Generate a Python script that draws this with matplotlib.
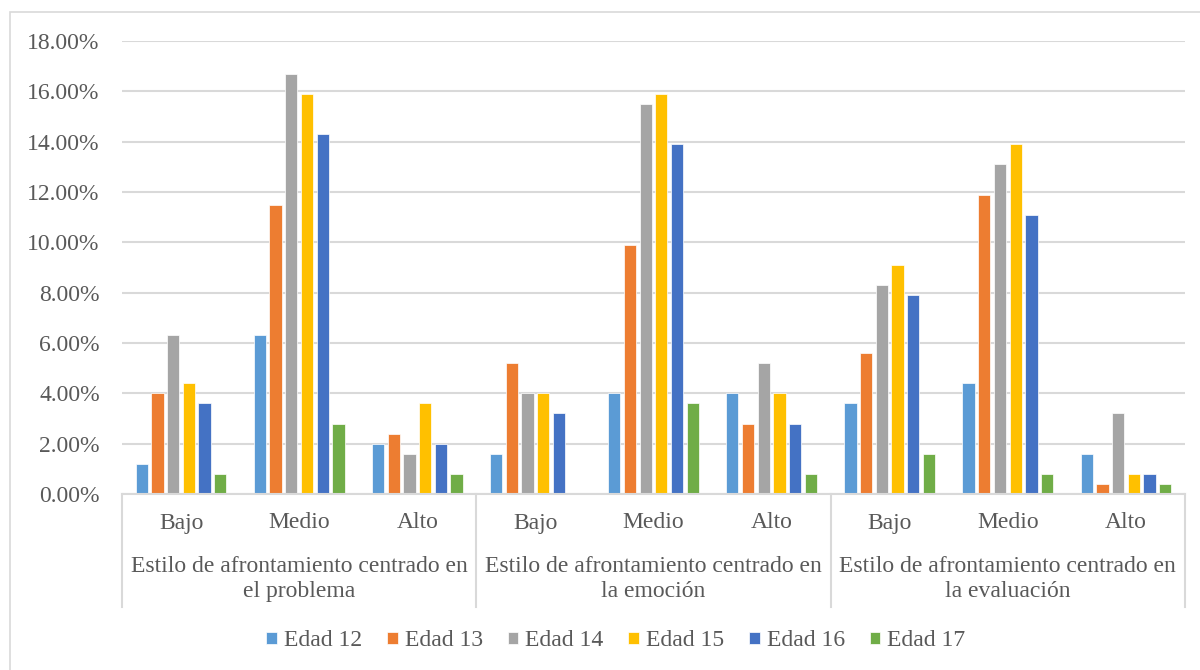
import matplotlib
matplotlib.use("Agg")
import matplotlib.pyplot as plt
import numpy as np
from matplotlib.transforms import blended_transform_factory
from matplotlib.patches import Rectangle
from matplotlib.lines import Line2D

groups = ["Estilo de afrontamiento centrado en\nel problema",
          "Estilo de afrontamiento centrado en\nla emoción",
          "Estilo de afrontamiento centrado en\nla evaluación"]
levels = ["Bajo", "Medio", "Alto"]
series_names = ["Edad 12", "Edad 13", "Edad 14", "Edad 15", "Edad 16", "Edad 17"]
colors = ["#5B9BD5", "#ED7D31", "#A5A5A5", "#FFC000", "#4472C4", "#70AD47"]

edad12 = [1.2, 6.3, 2.0, 1.6, 4.0, 4.0, 3.6, 4.4, 1.6]
edad13 = [4.0, 11.5, 2.4, 5.2, 9.9, 2.8, 5.6, 11.9, 0.4]
edad14 = [6.3, 16.7, 1.6, 4.0, 15.5, 5.2, 8.3, 13.1, 3.2]
edad15 = [4.4, 15.9, 3.6, 4.0, 15.9, 4.0, 9.1, 13.9, 0.8]
edad16 = [3.6, 14.3, 2.0, 3.2, 13.9, 2.8, 7.9, 11.1, 0.8]
edad17 = [0.8, 2.8, 0.8, 0.0, 3.6, 0.8, 1.6, 0.8, 0.4]
series = [edad12, edad13, edad14, edad15, edad16, edad17]

yticks = [0, 2, 4, 6, 8, 10, 12, 14, 16, 18]

W, H = 1200, 670
fig = plt.figure(figsize=(12, 6.7), dpi=100)
plt.rcParams['font.family'] = ['Liberation Serif', 'DejaVu Serif']
txtc = "#595959"
gridc = "#D9D9D9"
fs = 17

ax = fig.add_axes([122 / W, (H - 494) / H, (1185 - 122) / W, (494 - 41) / H])
n = len(edad12)
x = np.arange(n)
pitch = 0.133
bw = 0.104
for i, (vals, c, name) in enumerate(zip(series, colors, series_names)):
    ax.bar(x + (i - 2.5) * pitch, vals, width=bw, color=c, label=name,
           edgecolor="white", linewidth=0.5, zorder=3)

ax.set_xlim(-0.5, n - 0.5)
ax.set_ylim(0, 18)
ax.set_yticks(yticks)
ax.set_yticklabels([f"{v:.2f}%" for v in yticks], fontsize=fs, color=txtc)
ax.tick_params(axis='y', length=0, pad=16)
ax.set_xticks([])
ax.grid(axis='y', color=gridc, linewidth=1.5, zorder=0)
for s in ["top", "right", "left"]:
    ax.spines[s].set_visible(False)
ax.spines["bottom"].set_color(gridc)
ax.spines["bottom"].set_linewidth(1.5)
ax.spines["bottom"].set_zorder(4)

tr = blended_transform_factory(ax.transData, fig.transFigure)
for j in range(n):
    ax.text(j, 1 - 523 / H, levels[j % 3], transform=tr, ha='center', va='center',
            fontsize=fs, color=txtc)
for g in range(3):
    ax.text(3 * g + 1, 1 - 579 / H, groups[g], transform=tr, ha='center', va='center',
            fontsize=fs, color=txtc, linespacing=1.3)
for b in range(4):
    xb = 3 * b - 0.5
    ax.add_line(Line2D([xb, xb], [1 - 494 / H, 1 - 607 / H], transform=tr,
                       color=gridc, linewidth=1.5, clip_on=False))

fig.legend(*ax.get_legend_handles_labels(), loc='center', ncol=6,
           bbox_to_anchor=(616 / W, 1 - 641 / H), frameon=False,
           prop={'size': fs}, labelcolor=txtc, handlelength=0.45, handleheight=0.45,
           handletextpad=0.3, columnspacing=1.05)

fig.patches.append(Rectangle((10 / W, -0.1), 1.2, 1.1 - 12 / H, transform=fig.transFigure,
                             fill=False, edgecolor=gridc, linewidth=1.2))

fig.savefig("out.png", dpi=100)
